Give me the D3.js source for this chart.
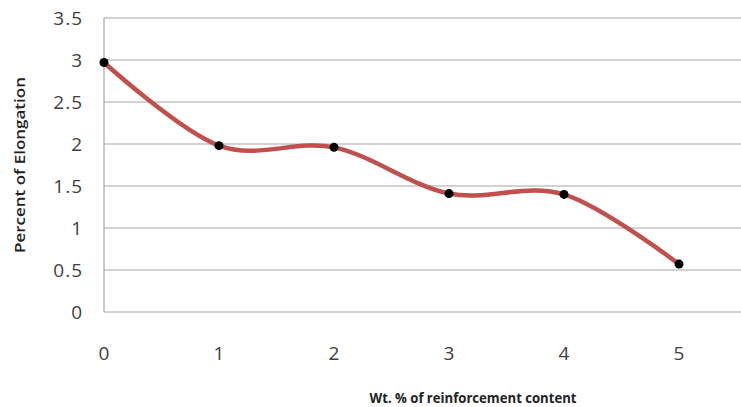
<!DOCTYPE html>
<html>
<head>
<meta charset="utf-8">
<script src="https://cdn.jsdelivr.net/npm/d3@7"></script>
<style>
  body { margin: 0; background: #fff; }
  svg { display: block; }
</style>
</head>
<body>
<div id="chart"></div>
<script>
// values
const wtPercent = [0, 1, 2, 3, 4, 5];
const elongation = [2.97, 1.98, 1.96, 1.41, 1.40, 0.57];
const yTicks = [0, 0.5, 1, 1.5, 2, 2.5, 3, 3.5];

const W = 741, H = 407;
const margin = {left: 104, top: 18, bottom: 95};

const svg = d3.select("#chart").append("svg")
    .attr("width", W)
    .attr("height", H)
    .style("font-family", "'Open Sans', Lato, sans-serif");

const x = d3.scaleLinear().domain([0, 5]).range([margin.left, 679]);
const y = d3.scaleLinear().domain([0, 3.5]).range([H - margin.bottom, margin.top]);

// horizontal gridlines
svg.append("g")
   .selectAll("line")
   .data(yTicks)
   .enter().append("line")
   .attr("x1", margin.left)
   .attr("x2", W)
   .attr("y1", d => y(d))
   .attr("y2", d => y(d))
   .attr("stroke", "#a6a6a6")
   .attr("stroke-width", 1.2);

// left axis line
svg.append("line")
   .attr("x1", margin.left).attr("x2", margin.left)
   .attr("y1", y(3.5)).attr("y2", y(0))
   .attr("stroke", "#a6a6a6")
   .attr("stroke-width", 1.2);

// y tick labels
svg.append("g")
   .selectAll("text")
   .data(yTicks)
   .enter().append("text")
   .attr("x", 83)
   .attr("y", d => y(d))
   .attr("dy", "0.36em")
   .attr("text-anchor", "end")
   .attr("font-size", 19)
   .attr("letter-spacing", 1)
   .attr("fill", "#404040")
   .text(d => d);

// x tick labels
svg.append("g")
   .selectAll("text")
   .data(wtPercent)
   .enter().append("text")
   .attr("x", d => x(d))
   .attr("y", 360)
   .attr("text-anchor", "middle")
   .attr("font-size", 19)
   .attr("fill", "#404040")
   .text(d => d);

// axis titles
svg.append("text")
   .attr("transform", `translate(25, 165) rotate(-90)`)
   .attr("text-anchor", "middle")
   .attr("font-size", 14)
   .attr("font-weight", 600)
   .attr("fill", "#222")
   .attr("textLength", 176)
   .attr("lengthAdjust", "spacingAndGlyphs")
   .text("Percent of Elongation");

svg.append("text")
   .attr("x", 473)
   .attr("y", 403)
   .attr("text-anchor", "middle")
   .attr("font-size", 14)
   .attr("font-weight", "bold")
   .attr("fill", "#222")
   .attr("textLength", 207)
   .attr("lengthAdjust", "spacingAndGlyphs")
   .text("Wt. % of reinforcement content");

// smoothed line
const pts = wtPercent.map((d, i) => ({w: d, e: elongation[i]}));

const line = d3.line()
    .curve(d3.curveCardinal.tension(0))
    .x(d => x(d.w))
    .y(d => y(d.e));

svg.append("path")
   .datum(pts)
   .attr("fill", "none")
   .attr("stroke", "#c0504d")
   .attr("stroke-width", 4.5)
   .attr("stroke-linecap", "round")
   .attr("d", line);

svg.selectAll(".dot")
   .data(pts)
   .enter().append("circle")
   .attr("class", "dot")
   .attr("cx", d => x(d.w))
   .attr("cy", d => y(d.e))
   .attr("r", 4.5)
   .attr("fill", "#000");
</script>
</body>
</html>
